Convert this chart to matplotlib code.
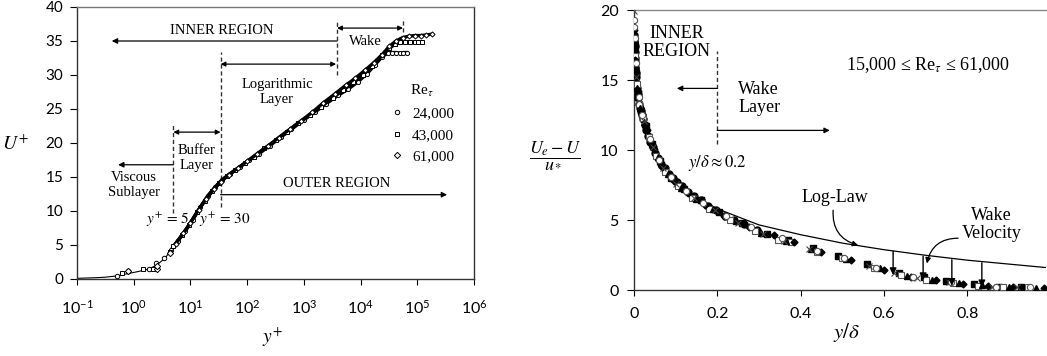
import matplotlib
matplotlib.use('Agg')
import matplotlib.pyplot as plt
from matplotlib.lines import Line2D

plt.rcParams['font.family'] = ['Lato', 'DejaVu Sans']
plt.rcParams['mathtext.fontset'] = 'stix'
SERIF = 'Liberation Serif'

# ---------------- left panel data: U+ vs y+ ----------------
re_labels = ['24,000', '43,000', '61,000']

# thin law-of-the-wall line near the wall
wall_yp = [0.1, 0.2, 0.3, 0.5, 0.8, 1.2, 1.8, 2.5, 3.5, 5.0]
wall_up = [0.1, 0.18, 0.25, 0.45, 0.8, 1.1, 1.45, 2.0, 3.0, 4.6]

# scattered near-wall points
near24_yp = [0.5, 0.79, 1.86, 2.5, 3.4]
near24_up = [0.45, 1.13, 1.45, 2.4, 3.1]
near43_yp = [0.62, 1.47, 2.2, 4.3]
near43_up = [0.93, 1.42, 1.5, 4.0]
near61_yp = [0.8, 2.6, 2.6, 4.4]
near61_up = [1.2, 1.5, 1.9, 3.8]

# profiles from the buffer layer outward
prof24_yp = [4.5, 6, 8, 11, 15, 20, 27, 36, 50, 75, 110, 160, 250, 400, 600,
             1000, 1600, 2500, 4000, 6000, 9000, 13000, 18000, 24000, 30000,
             36000, 43000, 50000, 57000, 65000]
prof24_up = [4.2, 5.6, 7.0, 8.7, 10.6, 12.2, 13.5, 14.6, 15.5, 16.5, 17.5, 18.4,
             19.6, 20.9, 22.0, 23.4, 24.6, 25.8, 27.0, 27.9, 29.0, 30.2, 31.5,
             32.7, 33.2, 33.3, 33.3, 33.2, 33.3, 33.3]
prof43_yp = [5, 7, 9.5, 13, 18, 24, 32, 44, 62, 90, 130, 200, 320, 500, 800,
             1300, 2000, 3200, 5000, 7500, 11000, 16000, 24000, 32000, 40000,
             50000, 60000, 75000, 90000, 105000, 120000]
prof43_up = [4.8, 6.4, 7.9, 9.8, 11.5, 12.9, 14.1, 15.1, 16.0, 17.0, 18.0,
             19.2, 20.4, 21.6, 22.9, 24.1, 25.3, 26.6, 27.8, 28.9, 30.0, 31.3,
             32.9, 33.9, 34.5, 34.8, 34.9, 34.9, 34.8, 34.8, 34.8]
prof61_yp = [5.5, 7.5, 10, 14, 19, 26, 34, 47, 68, 100, 150, 230, 360, 560,
             900, 1400, 2200, 3500, 5500, 8000, 12000, 17000, 24000, 32000,
             42000, 55000, 70000, 90000, 115000, 145000, 180000]
prof61_up = [5.2, 6.7, 8.3, 10.2, 11.8, 13.2, 14.3, 15.3, 16.3, 17.3, 18.4,
             19.5, 20.8, 22.0, 23.3, 24.5, 25.9, 27.2, 28.5, 29.5, 30.7, 31.8,
             33.0, 34.2, 35.0, 35.5, 35.7, 35.8, 35.8, 35.9, 36.0]

xtick_exp = [-1, 0, 1, 2, 3, 4, 5, 6]
ytick_left = [0, 5, 10, 15, 20, 25, 30, 35, 40]

# ---------------- right panel data: defect law ----------------
loglaw_x = [0.003, 0.005, 0.01, 0.02, 0.05, 0.1, 0.15, 0.2, 0.3, 0.4, 0.5,
            0.6, 0.7, 0.8, 0.9, 0.99]
loglaw_u = [16.5, 15.3, 13.8, 12.2, 9.8, 7.7, 6.6, 5.8, 4.65, 3.95, 3.35,
            2.88, 2.48, 2.13, 1.85, 1.6]

fsq_x = [0.002, 0.005, 0.01, 0.017, 0.028, 0.043, 0.062, 0.09, 0.12, 0.16,
         0.205, 0.26, 0.32, 0.37, 0.43, 0.49, 0.56, 0.635, 0.695, 0.75, 0.815,
         0.875, 0.93]
fsq_u = [17.4, 15.5, 13.9, 12.8, 11.7, 10.4, 9.2, 8.0, 7.2, 6.4, 5.6, 4.8,
         4.0, 3.6, 3.0, 2.45, 1.85, 1.25, 0.9, 0.62, 0.4, 0.25, 0.2]
osq_x = [0.003, 0.007, 0.013, 0.022, 0.035, 0.052, 0.075, 0.105, 0.14, 0.18,
         0.23, 0.29, 0.345, 0.378, 0.44, 0.50, 0.575, 0.64, 0.70, 0.765, 0.825,
         0.885, 0.945]
osq_u = [16.7, 14.7, 13.3, 12.3, 10.9, 9.6, 8.4, 7.4, 6.6, 5.8, 5.0, 4.2,
         3.6, 3.4, 2.75, 2.3, 1.6, 1.05, 0.75, 0.5, 0.3, 0.22, 0.18]
tri_x = [0.0015, 0.004, 0.008, 0.015, 0.025, 0.04, 0.057, 0.082, 0.112, 0.15,
         0.19, 0.245, 0.305, 0.365, 0.425, 0.51, 0.59, 0.655, 0.715, 0.78,
         0.835, 0.9, 0.965]
tri_u = [17.9, 16.0, 14.4, 13.0, 12.0, 10.7, 9.5, 8.3, 7.3, 6.5, 5.8, 4.9,
         4.1, 3.5, 2.9, 2.2, 1.55, 1.0, 0.72, 0.48, 0.33, 0.21, 0.15]
dia_x = [0.001, 0.0035, 0.009, 0.019, 0.031, 0.047, 0.068, 0.097, 0.13, 0.17,
         0.215, 0.275, 0.335, 0.385, 0.45, 0.52, 0.60, 0.665, 0.725, 0.79,
         0.85, 0.91, 0.985]
dia_u = [18.6, 16.4, 14.2, 12.6, 11.4, 10.1, 8.8, 7.8, 6.9, 6.1, 5.3, 4.5,
         3.9, 3.4, 2.7, 2.15, 1.45, 0.95, 0.68, 0.44, 0.28, 0.19, 0.12]
crs_x = [0.0005, 0.006, 0.012, 0.024, 0.045, 0.07, 0.1, 0.145, 0.195, 0.25,
         0.31, 0.36, 0.42, 0.565, 0.625, 0.68, 0.755, 0.86, 0.92]
crs_u = [19.9, 15.2, 13.6, 12.1, 10.2, 8.7, 7.6, 6.6, 5.7, 4.8, 4.0, 3.5,
         2.95, 1.75, 1.25, 0.85, 0.55, 0.24, 0.2]
ocir_x = [0.001, 0.001, 0.002, 0.004, 0.011, 0.02, 0.038, 0.06, 0.088, 0.125,
          0.165, 0.22, 0.28, 0.355, 0.44, 0.505, 0.58, 0.67, 0.76, 0.87, 0.95]
ocir_u = [19.3, 18.8, 18.0, 16.2, 13.8, 12.5, 10.8, 9.3, 8.1, 7.1, 6.2, 5.3,
          4.5, 3.7, 2.8, 2.3, 1.6, 0.9, 0.58, 0.24, 0.2]
fcir_x = [0.0008, 0.0012, 0.0016, 0.002, 0.0025, 0.003, 0.0036, 0.0043, 0.005,
          0.006, 0.007, 0.0085, 0.01, 0.012, 0.014, 0.016, 0.019, 0.022, 0.026,
          0.03, 0.034, 0.039, 0.045, 0.051, 0.058, 0.066, 0.074, 0.083, 0.093,
          0.104, 0.116, 0.13, 0.145, 0.16, 0.178, 0.197, 0.218, 0.24, 0.265,
          0.295]
fcir_u = [18.2, 17.8, 17.4, 17.0, 16.6, 16.3, 15.9, 15.5, 15.2, 14.8, 14.4,
          14.0, 13.7, 13.3, 13.0, 12.8, 12.5, 12.2, 11.8, 11.4, 11.0, 10.6,
          10.2, 9.8, 9.4, 9.0, 8.7, 8.3, 8.0, 7.7, 7.4, 7.0, 6.7, 6.4, 6.0,
          5.7, 5.3, 5.0, 4.7, 4.3]

# wake-velocity arrows (x, top on log-law, bottom at data)
wake_x = [0.622, 0.694, 0.763, 0.835]
wake_top = [2.78, 2.42, 2.16, 1.95]
wake_bot = [1.07, 0.71, 0.3, 0.2]

xtick_right = [0, 0.2, 0.4, 0.6, 0.8]
ytick_right = [0, 5, 10, 15, 20]

fig = plt.figure(figsize=(10.47, 3.56), dpi=100)
ax1 = fig.add_axes([77/1047, 1-279/356, (474-77)/1047, (279-7)/356])
ax2 = fig.add_axes([634/1047, 1-290/356, (1046-634)/1047, (290-10)/356])

arr = dict(arrowstyle='-|>', color='black', lw=0.9, mutation_scale=8,
           shrinkA=0, shrinkB=0)
arr2 = dict(arrowstyle='<|-|>', color='black', lw=0.9, mutation_scale=7,
            shrinkA=0, shrinkB=0)
dash = (0, (3, 2))

# ---- left panel ----
ax1.plot(wall_yp, wall_up, color='black', lw=0.8, zorder=2)
mk = dict(color='black', mfc='white', mec='black', mew=0.7, ms=3.2, zorder=3)
for near_yp, near_up, prof_yp, prof_up, m in [
        (near24_yp, near24_up, prof24_yp, prof24_up, 'o'),
        (near43_yp, near43_up, prof43_yp, prof43_up, 's'),
        (near61_yp, near61_up, prof61_yp, prof61_up, 'D')]:
    ax1.plot(near_yp, near_up, m, ls='none', **mk)
    ax1.plot(prof_yp, prof_up, m, ls='-', lw=2.4,
             **dict(mk, ms=3.0 if m != 'D' else 2.6))

ax1.set_xscale('log')
ax1.set_xlim(0.1, 1e6)
ax1.set_ylim(0, 40)
ax1.set_xticks([10.0**e for e in xtick_exp])
ax1.set_xticklabels([r'$\mathregular{10^{%d}}$' % e for e in xtick_exp])
ax1.minorticks_off()
ax1.set_yticks(ytick_left)
ax1.tick_params(axis='x', direction='out', length=4, pad=10, labelsize=11.5)
ax1.tick_params(axis='y', direction='out', length=5, pad=5, labelsize=11)
for s in ax1.spines.values():
    s.set_color('#333333')
    s.set_linewidth(1.0)
ax1.spines['top'].set_color('#777777')

tk = dict(family=SERIF, fontsize=10.5, ha='center', va='center')
ax1.annotate('', xy=(0.41, 35), xytext=(3850, 35), arrowprops=arr)
ax1.text(36, 36.6, 'INNER REGION', **tk)
ax1.plot([3850, 3850], [30.0, 37.8], color='#333333', lw=1, ls=dash)
ax1.annotate('', xy=(3850, 36.9), xytext=(56000, 36.9), arrowprops=arr2)
ax1.plot([56000, 56000], [36.3, 38.4], color='#333333', lw=1, ls=dash)
ax1.text(12000, 34.9, 'Wake', **tk)
ax1.annotate('', xy=(34, 31.6), xytext=(3700, 31.6), arrowprops=arr2)
ax1.text(336, 27.5, 'Logarithmic\nLayer', linespacing=1.15, **tk)
ax1.plot([34, 34], [10.6, 33.4], color='#333333', lw=1, ls=dash)
ax1.annotate('', xy=(5, 21.6), xytext=(34, 21.6), arrowprops=arr2)
ax1.plot([5, 5], [9.7, 22.9], color='#333333', lw=1, ls=dash)
ax1.text(13, 17.8, 'Buffer\nLayer', linespacing=1.15, **tk)
ax1.annotate('', xy=(0.53, 16.8), xytext=(5, 16.8), arrowprops=arr)
ax1.text(1.0, 13.8, 'Viscous\nSublayer', linespacing=1.15, **tk)
ax1.text(4.0, 8.7, r'$y^{+}\/=\/5$', fontsize=11, ha='center', va='center')
ax1.text(40, 8.7, r'$y^{+}\/=\/30$', fontsize=11, ha='center', va='center')
ax1.annotate('', xy=(336000, 12.4), xytext=(34, 12.4), arrowprops=arr)
ax1.text(3850, 14.1, 'OUTER REGION', **tk)

handles = [Line2D([], [], marker=m, ls='none', mfc='white', mec='black',
                  mew=0.7, ms=3.2) for m in ['o', 's', 'D']]
leg = ax1.legend(handles, re_labels, title=r'Re$_\tau$', loc='upper left',
                 bbox_to_anchor=(0.79, 0.72), frameon=False,
                 prop=dict(family=SERIF, size=11), handlelength=0.8,
                 handletextpad=0.6, labelspacing=0.5, borderpad=0,
                 borderaxespad=0)
leg.get_title().set_fontfamily(SERIF)
leg.get_title().set_fontsize(11)

fig.text(15/1047, 1-143/356, r'$U^{+}$', fontsize=14, ha='center', va='center')
fig.text(273/1047, 1-337/356, r'$y^{+}$', fontsize=14, ha='center', va='center')

# ---- right panel ----
ax2.plot(loglaw_x, loglaw_u, color='black', lw=0.9, zorder=2)
ax2.plot(fcir_x, fcir_u, 'o', color='black', ms=5, zorder=3)
ax2.plot(fsq_x, fsq_u, 's', color='black', ms=4.5, zorder=3)
ax2.plot(osq_x, osq_u, 's', mfc='white', mec='#555555', mew=0.8, ms=4.5, zorder=3)
ax2.plot(tri_x, tri_u, '^', color='black', ms=4.5, zorder=3)
ax2.plot(dia_x, dia_u, 'D', color='black', ms=3.5, zorder=3)
ax2.plot(crs_x, crs_u, 'x', color='#444444', mew=0.8, ms=4.5, zorder=3)
ax2.plot(ocir_x, ocir_u, 'o', mfc='white', mec='#555555', mew=0.8, ms=4.5, zorder=3)

ax2.set_xlim(0, 0.989)
ax2.set_ylim(0, 20)
ax2.set_xticks(xtick_right)
ax2.set_xticklabels(['0', '0.2', '0.4', '0.6', '0.8'])
ax2.set_yticks(ytick_right)
ax2.tick_params(axis='x', direction='out', length=4, pad=8, labelsize=11.5)
ax2.tick_params(axis='y', direction='out', length=5, pad=6, labelsize=11.5)
for s in ax2.spines.values():
    s.set_color('#333333')
    s.set_linewidth(1.0)
ax2.spines['top'].set_color('#888888')
ax2.spines['right'].set_visible(False)

rk = dict(family=SERIF, fontsize=13, va='center')
ax2.text(0.103, 17.7, 'INNER\nREGION', ha='center', linespacing=1.05, **rk)
ax2.plot([0.2, 0.2], [10.4, 17.1], color='#333333', lw=1, ls=dash)
ax2.annotate('', xy=(0.103, 14.4), xytext=(0.2, 14.4), arrowprops=arr)
ax2.annotate('', xy=(0.47, 11.4), xytext=(0.2, 11.4), arrowprops=arr)
ax2.text(0.25, 13.7, 'Wake\nLayer', ha='left', linespacing=1.05, **rk)
ax2.text(0.2, 9.1, r'$y/\delta \approx 0.2$', fontsize=12, ha='center', va='center')
ax2.text(0.706, 16.1, r'15,000 ≤ Re$_\tau$ ≤ 61,000', ha='center', **rk)
ax2.text(0.483, 6.6, 'Log-Law', ha='center', **rk)
ax2.annotate('', xy=(0.538, 3.2), xytext=(0.478, 5.7),
             arrowprops=dict(arr, connectionstyle='arc3,rad=0.4'))
ax2.text(0.859, 4.7, 'Wake\nVelocity', ha='center', linespacing=1.05, **rk)
ax2.annotate('', xy=(0.703, 1.9), xytext=(0.778, 3.7),
             arrowprops=dict(arr, connectionstyle='arc3,rad=0.4'))
for x, t, b in zip(wake_x, wake_top, wake_bot):
    a = ax2.annotate('', xy=(x, b), xytext=(x, t),
                     arrowprops=dict(arr, mutation_scale=10, lw=1.0))
    a.set_zorder(6)

fig.text(555/1047, 1-155/356, r'$\dfrac{U_e - U}{u_*}$', fontsize=13,
         ha='center', va='center')
fig.text(847/1047, 1-333/356, r'$y/\delta$', fontsize=15, ha='center', va='center')

fig.savefig('out.png', dpi=100)
